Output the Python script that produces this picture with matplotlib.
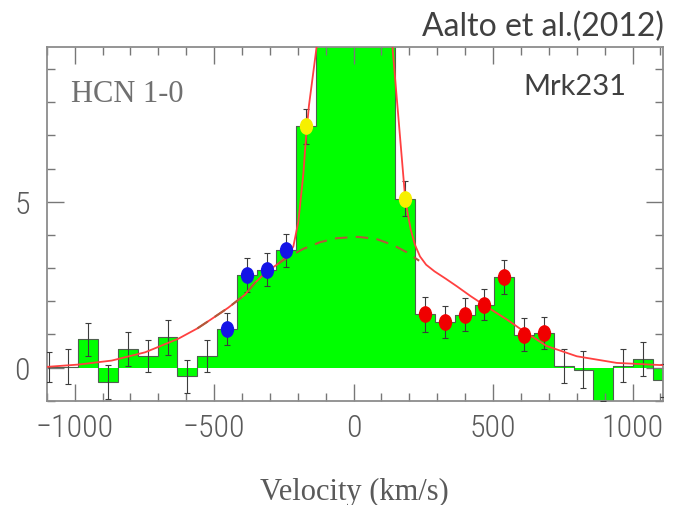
import numpy as np
import matplotlib
matplotlib.use("Agg")
import matplotlib.pyplot as plt
from matplotlib.path import Path
from matplotlib.transforms import Affine2D
from matplotlib.ticker import MultipleLocator

# HCN 1-0 spectrum of Mrk231 (channel centres in km/s, intensity in mK)
velocity = [-1093, -1022, -951, -880, -809, -738, -667, -596, -525, -454,
            -383, -312, -241, -170, -99, -28, 43, 114, 185, 256,
            327, 398, 469, 540, 611, 682, 753, 824, 895, 966,
            1037, 1108]
intensity = [0.02, 0.03, 0.85, -0.44, 0.56, 0.36, 0.91, -0.26, 0.36, 1.17,
             2.79, 2.95, 3.53, 7.27, 11.5, 14.0, 13.0, 10.5, 5.09, 1.60,
             1.37, 1.59, 1.90, 2.73, 0.99, 1.04, 0.04, -0.06, -1.5, 0.06,
             0.26, -0.38]
errors = [0.45, 0.52, 0.50, 0.52, 0.50, 0.48, 0.52, 0.50, 0.48, 0.48,
          0.50, 0.50, 0.50, 0.52, 0.50, 0.50, 0.50, 0.50, 0.52, 0.52,
          0.48, 0.50, 0.48, 0.50, 0.50, 0.48, 0.52, 0.55, 0.50, 0.50,
          0.50, 0.50]
chan_width = 71

# highlighted channels
blue_idx = [9, 10, 11, 12]
yellow_idx = [13, 18]
red_idx = [19, 20, 21, 22, 23, 24, 25]

# total fit
fit_v = [-1100, -986, -867, -747, -628, -560, -508, -450, -389, -354,
         -311, -275, -239, -216, -198, -180, -170, -160, -146, -132,
         -120, 130, 140, 152, 167, 185, 195, 205, 220, 238,
         260, 290, 330, 370, 420, 465, 549, 609, 692, 800, 943, 1110]
fit_y = [0.02, 0.09, 0.21, 0.46, 0.87, 1.18, 1.47, 1.80, 2.20, 2.55,
         2.90, 3.10, 3.35, 3.65, 4.40, 5.85, 7.00, 7.90, 8.80, 9.70,
         11.0, 11.0, 9.60, 8.40, 6.90, 5.10, 4.60, 4.15, 3.70, 3.35,
         3.10, 2.90, 2.68, 2.45, 2.15, 1.90, 1.45, 1.10, 0.65, 0.34, 0.14, 0.07]

# broad component (dashed)
broad_v = [-560, -508, -450, -389, -354, -311, -275, -240, -180, -120,
           -60, 15, 80, 140, 190, 235]
broad_y = [1.18, 1.47, 1.80, 2.20, 2.55, 2.90, 3.10, 3.30, 3.58, 3.78,
           3.90, 3.94, 3.88, 3.70, 3.48, 3.22]

v = np.array(velocity, dtype=float)
I = np.array(intensity)
edges = np.append(v - chan_width / 2, v[-1] + chan_width / 2)

fig = plt.figure(figsize=(6.77, 5.06), dpi=100)
ax = fig.add_axes([0.069, 0.2061, 0.9103, 0.6981])

ax.stairs(I, edges, baseline=0, fill=True, color='#00ff00', zorder=1)
ax.stairs(I, edges, baseline=None, color='#4f5f4f', lw=0.8, zorder=2)

ax.errorbar(v, I, yerr=errors, fmt='none', ecolor='#3c3c3c', elinewidth=0.8,
            capsize=2.5, capthick=0.8, zorder=3)

ax.plot(fit_v, fit_y, color='#ff4040', lw=1.3, zorder=4)
ax.plot(broad_v, broad_y, color='#b05a3a', lw=1.5, ls=(0, (6, 4)), zorder=4.5)

ell = Path.unit_circle().transformed(Affine2D().scale(0.78, 1.0))
for idx, col in [(blue_idx, '#1414e6'), (yellow_idx, '#f6f000'), (red_idx, '#f00000')]:
    ax.plot(v[idx], I[idx], ls='none', marker=ell, ms=11, color=col,
            mec=col, zorder=5)

ax.set_xlim(-1100, 1109)
ax.set_ylim(-1.0, 9.65)
ax.xaxis.set_major_locator(MultipleLocator(500))
ax.xaxis.set_minor_locator(MultipleLocator(100))
ax.yaxis.set_major_locator(MultipleLocator(5))
ax.yaxis.set_minor_locator(MultipleLocator(1))
ax.tick_params(which='both', direction='in', top=True, right=True,
               color='#777777', width=1.0, labelcolor='#5a5a5a')
ax.tick_params(which='major', length=12)
ax.tick_params(which='minor', length=6)
ax.tick_params(axis='x', pad=9)
ax.tick_params(axis='y', pad=12)
for s in ax.spines.values():
    s.set_color('#8c8c8c')
    s.set_linewidth(1.3)

ax.set_xticks([-1000, -500, 0, 500, 1000])
ax.set_xticklabels(['\u22121000', '\u2212500', '0', '500', '1000'])
tick_family = ['Liberation Sans Narrow', 'Roboto Condensed', 'Roboto', 'DejaVu Sans']
for lab in ax.get_xticklabels() + ax.get_yticklabels():
    lab.set_fontfamily(tick_family)
    lab.set_fontsize(23)
    lab.set_fontweight('light')

ax.set_xlabel('Velocity (km/s)', family='Liberation Serif', size=22,
              color='#5a5a5a', labelpad=25)

ax.text(0.04, 0.87, 'HCN 1-0', transform=ax.transAxes, family='Liberation Serif',
        size=22, color='#707070', va='center', ha='left')
ax.text(0.94, 0.89, 'Mrk231', transform=ax.transAxes, family='Lato',
        size=21, color='#404040', va='center', ha='right')
fig.text(0.981, 0.947, 'Aalto et al.(2012)', family='Lato', size=23,
         color='#404040', va='center', ha='right')

fig.savefig('out.png', dpi=100)
